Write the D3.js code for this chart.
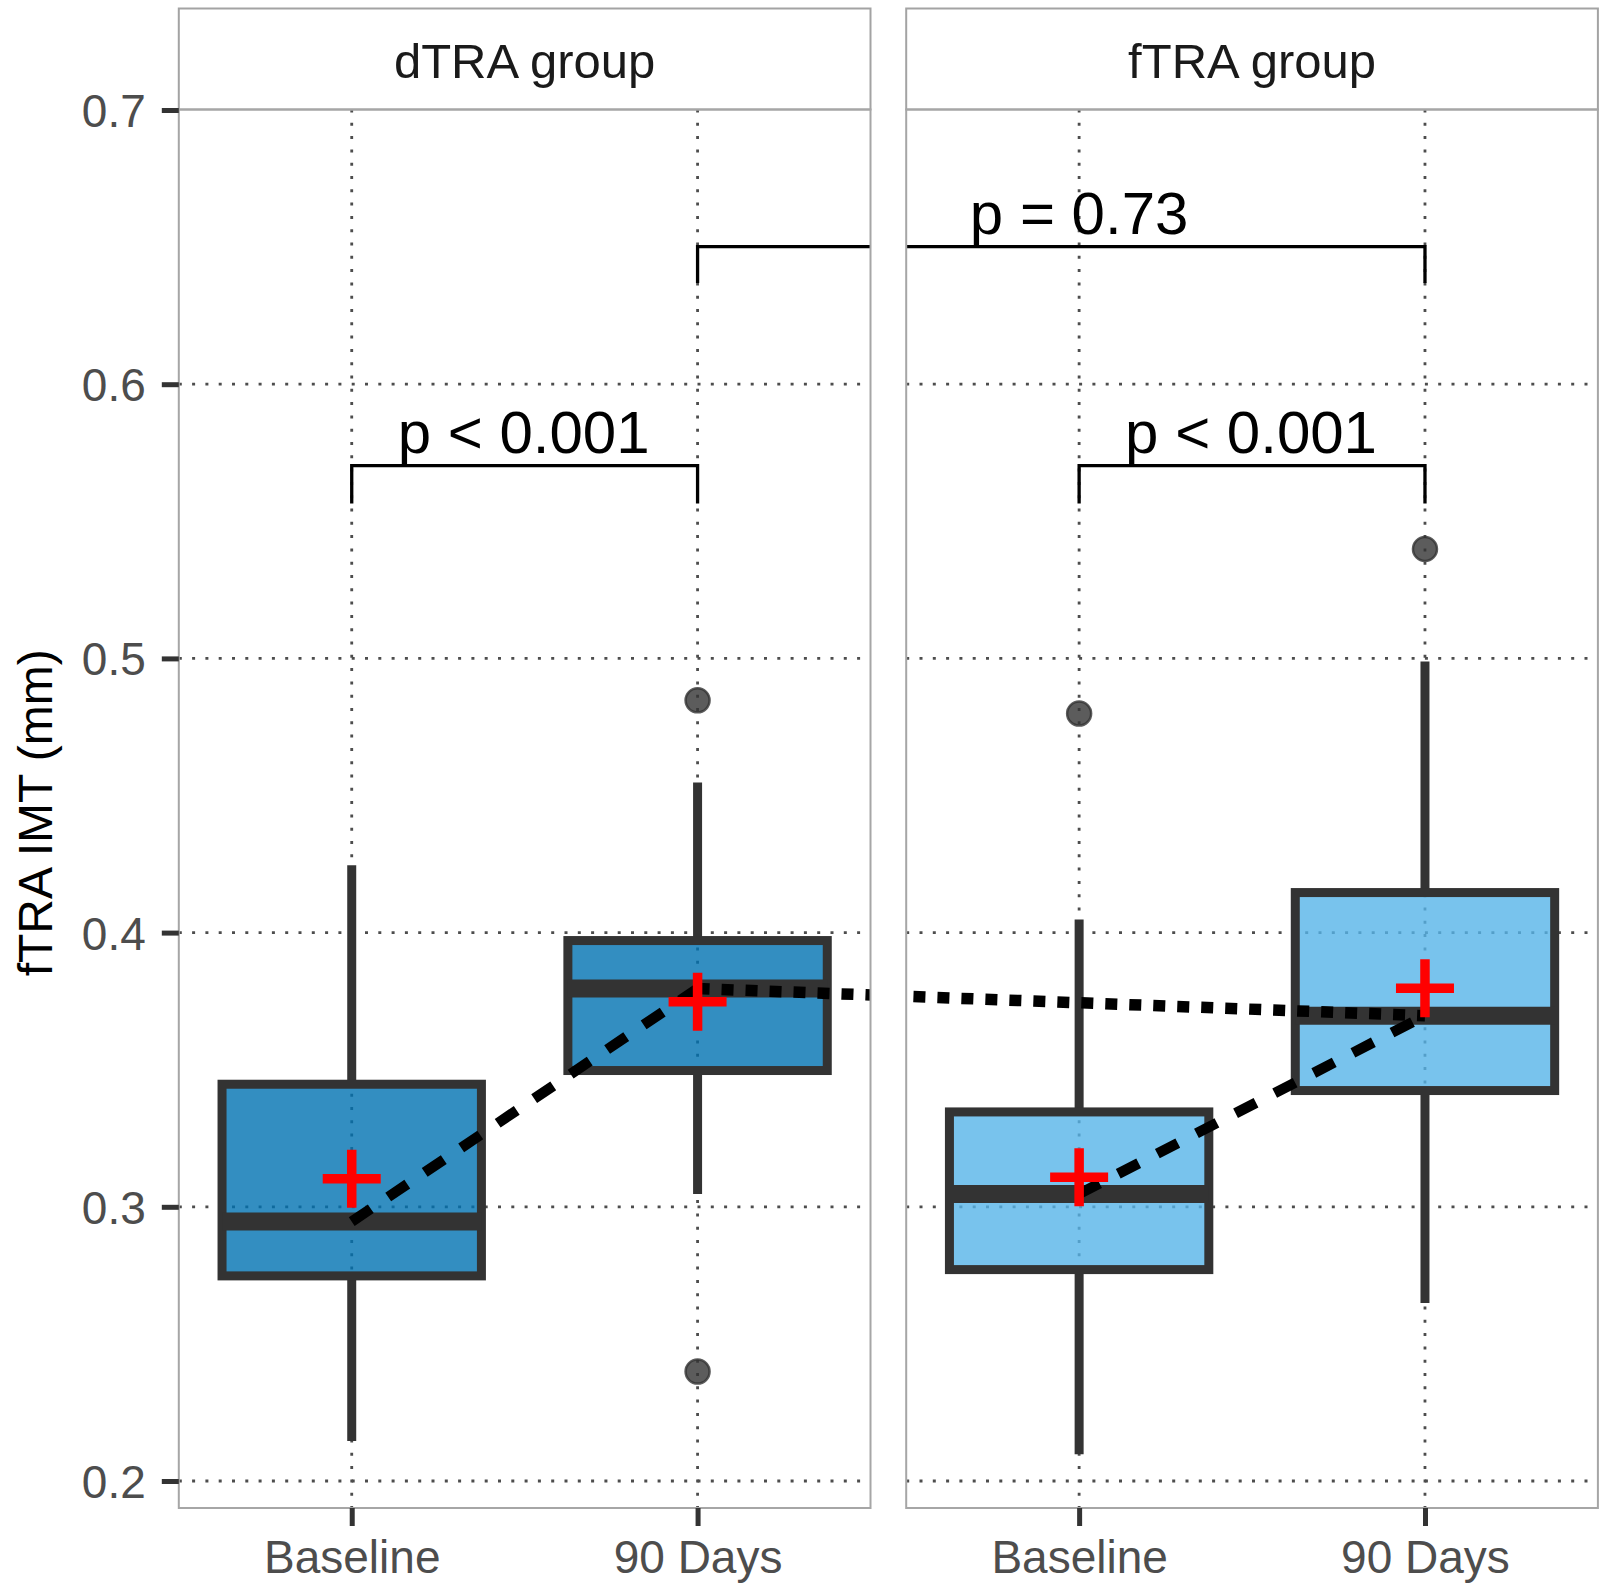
<!DOCTYPE html>
<html><head><meta charset="utf-8">
<script src="https://cdn.jsdelivr.net/npm/d3@7"></script>
<style>body{margin:0;background:#fff}svg{display:block}</style>
</head><body>
<svg id="chart" width="1602" height="1587"></svg>
<script>
// ---- data ----
const groups = ["dTRA group", "fTRA group"];
const categories = ["Baseline", "90 Days"];
const boxGroup = ["dTRA group", "dTRA group", "fTRA group", "fTRA group"];
const boxCat = ["Baseline", "90 Days", "Baseline", "90 Days"];
const whiskerLow = [0.2146, 0.3047, 0.2098, 0.2649];
const q1 = [0.2748, 0.3497, 0.2771, 0.3424];
const median = [0.2946, 0.3796, 0.3047, 0.3697];
const q3 = [0.3447, 0.3971, 0.3346, 0.4146];
const whiskerHigh = [0.4246, 0.4547, 0.4048, 0.4989];
const means = [0.3102, 0.3748, 0.3108, 0.3797];
const outliers = [[], [0.4847, 0.2399], [0.4799], [0.5399]];
const yTicks = [0.2, 0.3, 0.4, 0.5, 0.6, 0.7];
const groupFill = ["#0072B2", "#56B4E9"];
// brackets: [from box index, to box index]
const bracketFrom = [0, 2, 1];
const bracketTo = [1, 3, 3];
const bracketY = [0.5703, 0.5703, 0.6502];
const bracketTip = [0.5565, 0.5565, 0.6369];
const bracketLabel = ["p < 0.001", "p < 0.001", "p = 0.73"];
const yTitle = "fTRA IMT (mm)";

// ---- layout ----
const FONT = "'Liberation Sans', Arial, Helvetica, sans-serif";
const panelLeft = [178.8, 906.2];
const panelWidth = 691.7;
const stripTop = 8.5;
const panelTop = 109.5;
const panelBottom = 1508;

const svg = d3.select("#chart");
const y = d3.scaleLinear().domain([0.2, 0.7]).range([1481, 110]);
const xs = d3.scalePoint().domain(categories).range([0, panelWidth]).padding(0.5);
const bw = xs.step() * 0.75;
const bx = i => panelLeft[groups.indexOf(boxGroup[i])] + xs(boxCat[i]);

// clip paths
const defs = svg.append("defs");
groups.forEach((g, gi) => {
  defs.append("clipPath").attr("id", "clip" + gi).append("rect")
    .attr("x", panelLeft[gi]).attr("y", panelTop)
    .attr("width", panelWidth).attr("height", panelBottom - panelTop);
});
const both = defs.append("clipPath").attr("id", "clipBoth");
groups.forEach((g, gi) => {
  both.append("rect").attr("x", panelLeft[gi]).attr("y", panelTop)
    .attr("width", panelWidth).attr("height", panelBottom - panelTop);
});

// panels: grid, strips
groups.forEach((g, gi) => {
  const p = svg.append("g");
  const x0 = panelLeft[gi];
  p.selectAll("line.hg").data(yTicks.filter(t => t < 0.7)).join("line")
    .attr("x1", x0).attr("x2", x0 + panelWidth)
    .attr("y1", d => y(d)).attr("y2", d => y(d))
    .attr("stroke", "#4d4d4d").attr("stroke-width", 2.8)
    .attr("stroke-dasharray", "3,10.3");
  p.selectAll("line.vg").data(categories).join("line")
    .attr("x1", d => x0 + xs(d)).attr("x2", d => x0 + xs(d))
    .attr("y1", panelTop).attr("y2", panelBottom)
    .attr("stroke", "#4d4d4d").attr("stroke-width", 2.8)
    .attr("stroke-dasharray", "3,10.3");
  // strip
  svg.append("rect").attr("x", x0).attr("y", stripTop)
    .attr("width", panelWidth).attr("height", panelTop - stripTop)
    .attr("fill", "#fff").attr("stroke", "#a3a3a3").attr("stroke-width", 2);
  svg.append("text").attr("x", x0 + panelWidth / 2).attr("y", 77.5)
    .attr("text-anchor", "middle").attr("font-family", FONT)
    .attr("font-size", 49).attr("fill", "#1a1a1a")
    .text(g);
});

// boxes
const boxes = svg.append("g");
boxGroup.forEach((g, i) => {
  const gi = groups.indexOf(g);
  const cx = bx(i);
  const G = boxes.append("g").attr("clip-path", "url(#clip" + gi + ")");
  G.append("line").attr("x1", cx).attr("x2", cx)
    .attr("y1", y(whiskerHigh[i])).attr("y2", y(q3[i]))
    .attr("stroke", "#333").attr("stroke-width", 9);
  G.append("line").attr("x1", cx).attr("x2", cx)
    .attr("y1", y(q1[i])).attr("y2", y(whiskerLow[i]))
    .attr("stroke", "#333").attr("stroke-width", 9);
  G.append("rect").attr("x", cx - bw / 2).attr("y", y(q3[i]))
    .attr("width", bw).attr("height", y(q1[i]) - y(q3[i]))
    .attr("fill", groupFill[gi]).attr("fill-opacity", 0.8)
    .attr("stroke", "#333").attr("stroke-width", 9);
  G.append("line").attr("x1", cx - bw / 2).attr("x2", cx + bw / 2)
    .attr("y1", y(median[i])).attr("y2", y(median[i]))
    .attr("stroke", "#333").attr("stroke-width", 18);
  G.selectAll("circle").data(outliers[i]).join("circle")
    .attr("cx", cx).attr("cy", d => y(d)).attr("r", 12)
    .attr("fill", "#333").attr("fill-opacity", 0.8)
    .attr("stroke", "#333").attr("stroke-opacity", 0.8).attr("stroke-width", 2.5);
});

// median connecting lines
const lines = svg.append("g");
groups.forEach((g, gi) => {
  const a = boxGroup.findIndex((d, i) => d === g && boxCat[i] === categories[0]);
  const b = boxGroup.findIndex((d, i) => d === g && boxCat[i] === categories[1]);
  lines.append("path").attr("clip-path", "url(#clip" + gi + ")")
    .attr("d", d3.line()([[bx(a), y(median[a])], [bx(b), y(median[b])]]))
    .attr("fill", "none").attr("stroke", "#000").attr("stroke-width", 10.5)
    .attr("stroke-dasharray", "23,21");
});
{
  const a = 1, b = 3;
  lines.append("path").attr("clip-path", "url(#clipBoth)")
    .attr("d", d3.line()([[bx(a), y(median[a])], [bx(b), y(median[b])]]))
    .attr("fill", "none").attr("stroke", "#000").attr("stroke-width", 11.5)
    .attr("stroke-dasharray", "12,12");
}

// mean crosses
const cross = svg.append("g");
means.forEach((m, i) => {
  const cx = bx(i), cy = y(m), h = 29;
  cross.append("path").attr("d", `M${cx - h},${cy}H${cx + h}M${cx},${cy - h}V${cy + h}`)
    .attr("stroke", "#ff0000").attr("stroke-width", 9.5).attr("fill", "none");
});

// brackets
const br = svg.append("g");
bracketFrom.forEach((f, k) => {
  const t = bracketTo[k];
  const x1 = bx(f), x2 = bx(t);
  const clip = boxGroup[f] === boxGroup[t] ? "url(#clip" + groups.indexOf(boxGroup[f]) + ")" : "url(#clipBoth)";
  br.append("path").attr("clip-path", clip)
    .attr("d", `M${x1},${y(bracketTip[k])}V${y(bracketY[k])}H${x2}V${y(bracketTip[k])}`)
    .attr("fill", "none").attr("stroke", "#000").attr("stroke-width", 3.3);
  const lx = boxGroup[f] === boxGroup[t] ? (x1 + x2) / 2 - 1 : bx(2);
  br.append("text").attr("x", lx).attr("y", y(bracketY[k]) - 13)
    .attr("text-anchor", "middle").attr("font-family", FONT)
    .attr("font-size", 60).attr("fill", "#000").text(bracketLabel[k]);
});

// panel borders
groups.forEach((g, gi) => {
  svg.append("rect").attr("x", panelLeft[gi]).attr("y", panelTop)
    .attr("width", panelWidth).attr("height", panelBottom - panelTop)
    .attr("fill", "none").attr("stroke", "#a6a6a6").attr("stroke-width", 2);
});

// y axis
const ya = svg.append("g").attr("transform", `translate(${panelLeft[0]},0)`)
  .call(d3.axisLeft(y).tickValues(yTicks).tickSize(17).tickPadding(16).tickFormat(d3.format(".1f")));
ya.select(".domain").remove();
ya.selectAll(".tick line").attr("stroke", "#333").attr("stroke-width", 5);
ya.selectAll(".tick text").attr("font-family", FONT).attr("font-size", 46)
  .attr("fill", "#4d4d4d").attr("dy", "0.36em");

// x axes
groups.forEach((g, gi) => {
  const xa = svg.append("g").attr("transform", `translate(${panelLeft[gi]},${panelBottom})`)
    .call(d3.axisBottom(xs).tickSize(18).tickPadding(14));
  xa.select(".domain").remove();
  xa.selectAll(".tick line").attr("stroke", "#333").attr("stroke-width", 5);
  xa.selectAll(".tick text").attr("font-family", FONT).attr("font-size", 46)
    .attr("fill", "#4d4d4d");
});

// y title
svg.append("text").attr("transform", `translate(51.7,${(panelTop + panelBottom) / 2 + 4}) rotate(-90)`)
  .attr("text-anchor", "middle").attr("font-family", FONT).attr("font-size", 48)
  .attr("fill", "#000").text(yTitle);
</script>
</body></html>
